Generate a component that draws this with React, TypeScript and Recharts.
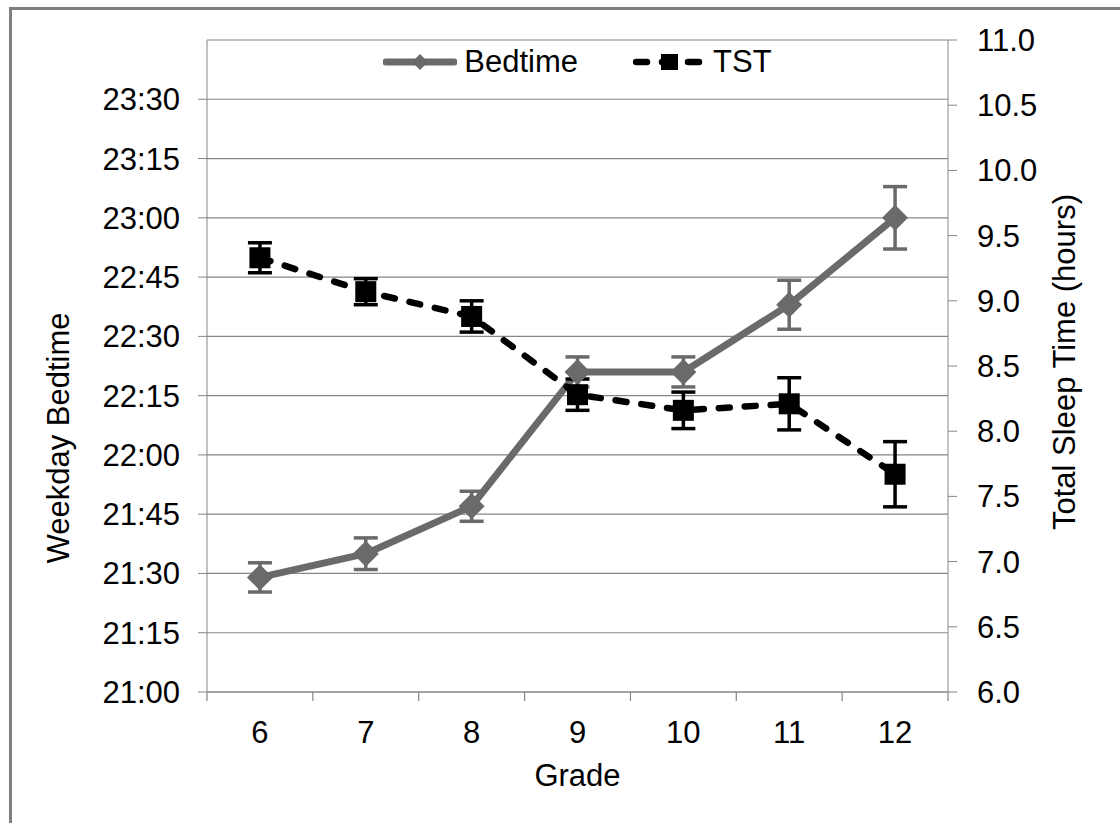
import {
  CartesianGrid,
  ComposedChart,
  ErrorBar,
  Legend,
  Line,
  XAxis,
  YAxis,
} from "recharts";

const grades = [6, 7, 8, 9, 10, 11, 12];
// bedtime as minutes after 21:00
const bedtimeMin = [29, 35, 47, 81, 81, 98, 120];
const bedtimeErr = [3.7, 4, 3.8, 3.8, 3.8, 6.2, 7.9];
// total sleep time, hours
const tstHours = [9.33, 9.07, 8.88, 8.28, 8.16, 8.21, 7.67];
const tstErr = [0.115, 0.1, 0.12, 0.12, 0.14, 0.2, 0.25];

const bedtimeTicks = [0, 15, 30, 45, 60, 75, 90, 105, 120, 135, 150];
const tstTicks = [6, 6.5, 7, 7.5, 8, 8.5, 9, 9.5, 10, 10.5, 11];

const data = grades.map((g, i) => ({
  grade: g,
  bedtime: bedtimeMin[i],
  bedtimeErr: bedtimeErr[i],
  tst: tstHours[i],
  tstErr: tstErr[i],
}));

// tick lines sit between grades, labels on the grades
const gradeTicks = grades.flatMap((g) => [g - 0.5, g]).concat(grades[grades.length - 1] + 0.5);

const FONT = "'Liberation Sans', Arial, sans-serif";
const FS = 31;
const AXIS = "#868686";
const GRAY = "#6a6a6a";
const TICK = 9;
const X_MARGIN = 20;

const fmtClock = (m: number) => {
  const total = 21 * 60 + m;
  const h = Math.floor(total / 60);
  const mm = total % 60;
  return `${h}:${mm.toString().padStart(2, "0")}`;
};

function GradeTick(props: any) {
  const { x, y, payload } = props;
  const v = payload.value as number;
  if (Number.isInteger(v)) {
    return (
      <text x={x} y={y} dy="0.71em" textAnchor="middle" fill="#000" fontSize={FS} fontFamily={FONT}>
        {v}
      </text>
    );
  }
  const base = y - TICK - X_MARGIN;
  return <line x1={x} x2={x} y1={base} y2={base + TICK} stroke={AXIS} strokeWidth={1.2} />;
}

function Diamond(props: any) {
  const { cx, cy } = props;
  if (cx == null || cy == null) return <g key={props.key} />;
  const r = 13;
  return (
    <polygon
      key={props.key}
      points={`${cx},${cy - r} ${cx + r},${cy} ${cx},${cy + r} ${cx - r},${cy}`}
      fill={GRAY}
    />
  );
}

function Square(props: any) {
  const { cx, cy } = props;
  if (cx == null || cy == null) return <g key={props.key} />;
  const s = 21;
  return <rect key={props.key} x={cx - s / 2} y={cy - s / 2} width={s} height={s} fill="#000" />;
}

function LegendBox() {
  const text = { fontFamily: FONT, fontSize: FS, color: "#000", lineHeight: "36px" };
  return (
    <div style={{ display: "flex", justifyContent: "center", alignItems: "center", gap: 55 }}>
      <div style={{ display: "flex", alignItems: "center", gap: 7 }}>
        <svg width={74} height={20}>
          <line x1={3} x2={71} y1={10} y2={10} stroke={GRAY} strokeWidth={7} strokeLinecap="round" />
          <polygon points="37,2 45,10 37,18 29,10" fill={GRAY} />
        </svg>
        <span style={text}>Bedtime</span>
      </div>
      <div style={{ display: "flex", alignItems: "center", gap: 6 }}>
        <svg width={74} height={20}>
          <line
            x1={3}
            x2={71}
            y1={10}
            y2={10}
            stroke="#000"
            strokeWidth={6.5}
            strokeDasharray="11 15"
            strokeLinecap="round"
          />
          <rect x={28} y={2} width={17} height={16} fill="#000" />
        </svg>
        <span style={text}>TST</span>
      </div>
    </div>
  );
}

export default function App() {
  return (
    <div style={{ position: "absolute", left: 0, top: 0, width: 1120, height: 823, background: "#fff" }}>
      <div
        style={{
          position: "absolute",
          left: 9,
          top: 7,
          width: 1108,
          height: 830,
          borderLeft: "3px solid #808080",
          borderTop: "3px solid #808080",
          borderRight: "1px solid #d8d8d8",
        }}
      />
      <ComposedChart
        width={1120}
        height={823}
        data={data}
        margin={{ top: 40, right: 0, bottom: 0, left: 0 }}
        style={{ position: "absolute", left: 0, top: 0 }}
      >
        <CartesianGrid vertical={false} stroke={AXIS} strokeWidth={1.2} />
        <XAxis
          dataKey="grade"
          type="number"
          domain={[5.5, 12.5]}
          ticks={gradeTicks}
          interval={0}
          height={131}
          stroke={AXIS}
          tickLine={false}
          tickSize={TICK}
          tickMargin={X_MARGIN}
          tick={<GradeTick />}
          label={{
            value: "Grade",
            position: "insideTop",
            offset: 72,
            fill: "#000",
            fontSize: FS,
            fontFamily: FONT,
          }}
        />
        <YAxis
          type="number"
          domain={[0, 165]}
          ticks={bedtimeTicks}
          interval={0}
          width={207}
          stroke={AXIS}
          tickSize={TICK}
          tickMargin={18}
          tickFormatter={fmtClock}
          tick={{ fill: "#000", fontSize: FS, fontFamily: FONT }}
          label={{
            value: "Weekday Bedtime",
            content: () => (
              <text
                x={58}
                y={438}
                transform="rotate(-90 58 438)"
                textAnchor="middle"
                dominantBaseline="central"
                fill="#000"
                fontSize={FS}
                fontFamily={FONT}
              >
                Weekday Bedtime
              </text>
            ),
          }}
        />
        <YAxis
          yAxisId="right"
          orientation="right"
          type="number"
          domain={[6, 11]}
          ticks={tstTicks}
          interval={0}
          width={172}
          stroke={AXIS}
          tickSize={TICK}
          tickMargin={20}
          tickFormatter={(v: number) => v.toFixed(1)}
          tick={{ fill: "#000", fontSize: FS, fontFamily: FONT }}
          label={{
            value: "Total Sleep Time (hours)",
            content: () => (
              <text
                x={1064}
                y={362}
                transform="rotate(-90 1064 362)"
                textAnchor="middle"
                dominantBaseline="central"
                fill="#000"
                fontSize={FS}
                fontFamily={FONT}
              >
                Total Sleep Time (hours)
              </text>
            ),
          }}
        />
        <Legend
          verticalAlign="top"
          content={<LegendBox />}
          wrapperStyle={{ top: 44, left: 207, width: 741, height: 0, overflow: "visible" }}
        />
        <Line
          dataKey="bedtime"
          name="Bedtime"
          stroke={GRAY}
          strokeWidth={7}
          dot={(p: any) => <Diamond {...p} />}
          activeDot={false}
          isAnimationActive={false}
        >
          <ErrorBar dataKey="bedtimeErr" direction="y" width={12} stroke={GRAY} strokeWidth={3.5} />
        </Line>
        <Line
          yAxisId="right"
          dataKey="tst"
          name="TST"
          stroke="#000"
          strokeWidth={6.5}
          strokeDasharray="11 15"
          strokeLinecap="round"
          dot={(p: any) => <Square {...p} />}
          activeDot={false}
          isAnimationActive={false}
        >
          <ErrorBar dataKey="tstErr" direction="y" width={12} stroke="#000" strokeWidth={3.5} />
        </Line>
      </ComposedChart>
    </div>
  );
}
